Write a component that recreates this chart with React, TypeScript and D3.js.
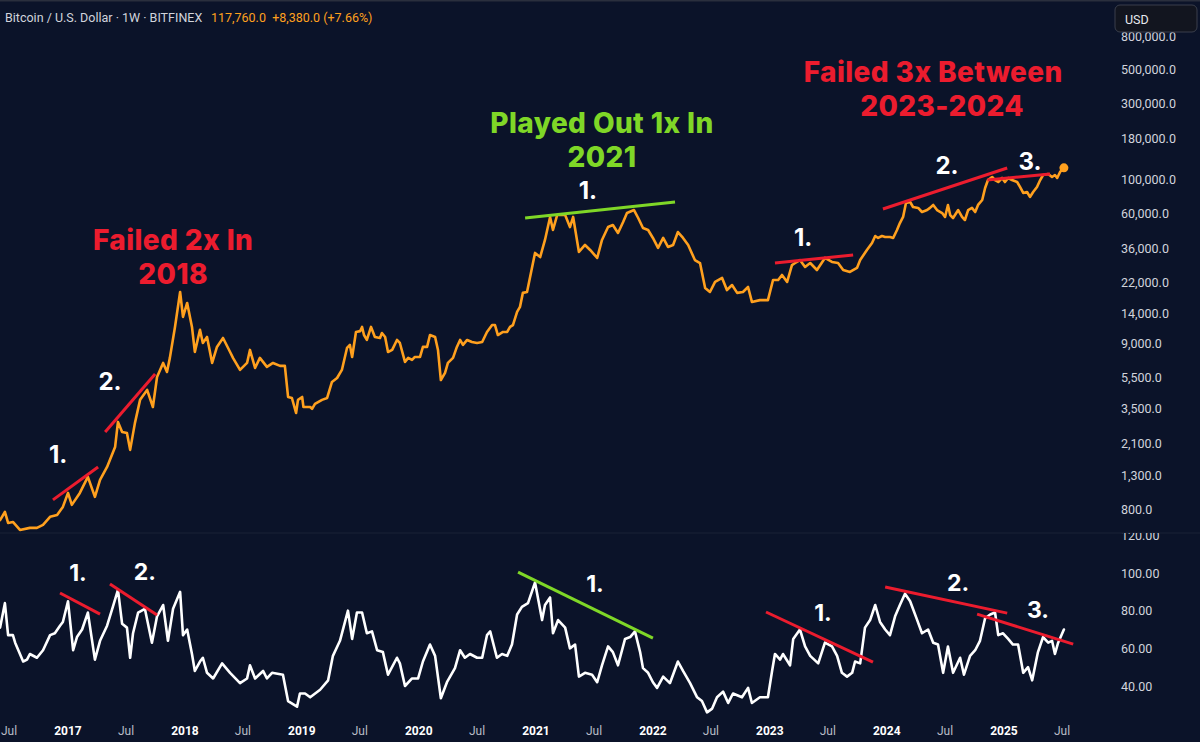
import React from "react";
import * as d3 from "d3";

// ---------- DATA ----------
const priceDates = [
  "2016-06-03","2016-06-18","2016-06-28","2016-07-13","2016-08-04","2016-09-04","2016-09-26","2016-10-15","2016-11-06","2016-11-28",
  "2016-12-16","2017-01-01","2017-01-13","2017-02-07","2017-03-04","2017-03-26","2017-04-11","2017-05-03","2017-05-28","2017-06-06",
  "2017-06-19","2017-07-04","2017-07-14","2017-07-29","2017-08-14","2017-09-05","2017-09-23","2017-10-06","2017-10-25","2017-11-06",
  "2017-11-15","2017-12-01","2017-12-17","2017-12-26","2018-01-08","2018-01-23","2018-02-01","2018-02-17","2018-02-26","2018-03-11",
  "2018-03-27","2018-04-11","2018-04-30","2018-05-22","2018-05-31","2018-06-22","2018-07-14","2018-07-23","2018-08-08","2018-08-23",
  "2018-09-14","2018-10-03",
  "2018-10-25","2018-11-09","2018-11-19","2018-12-01","2018-12-14","2018-12-20","2019-01-02","2019-01-06","2019-01-27","2019-02-02",
  "2019-02-11","2019-03-05","2019-03-21","2019-04-05","2019-04-21","2019-05-06","2019-05-22","2019-05-31","2019-06-07","2019-06-19",
  "2019-07-02","2019-07-08","2019-07-14","2019-07-23","2019-08-05","2019-08-17","2019-09-02","2019-09-08","2019-09-18","2019-09-27",
  "2019-10-10","2019-10-25","2019-11-03","2019-11-19","2019-11-29","2019-12-11","2019-12-20","2020-01-05","2020-01-14","2020-01-27",
  "2020-02-05","2020-02-21","2020-03-01","2020-03-10","2020-03-23","2020-04-01","2020-04-17","2020-04-29","2020-05-09","2020-05-18",
  "2020-05-31","2020-06-15","2020-07-01","2020-07-17","2020-08-01","2020-08-17","2020-08-26","2020-09-04","2020-09-20","2020-10-03",
  "2020-10-12","2020-10-21","2020-11-03","2020-11-12",
  "2020-11-21","2020-12-04","2020-12-29","2021-01-14","2021-01-29","2021-02-14","2021-02-23","2021-03-08","2021-04-02","2021-04-17",
  "2021-04-27","2021-05-15","2021-06-03","2021-06-19","2021-07-11","2021-07-26","2021-08-14","2021-08-29","2021-09-14","2021-09-30",
  "2021-10-12","2021-11-03","2021-11-16","2021-12-01","2021-12-17","2022-01-01","2022-01-17","2022-02-02","2022-02-17","2022-03-05",
  "2022-03-20","2022-04-05","2022-04-21","2022-05-12","2022-05-28","2022-06-13","2022-06-28","2022-07-14","2022-08-05","2022-08-20",
  "2022-09-05","2022-09-21","2022-10-09","2022-10-25","2022-11-06","2022-12-01","2022-12-26","2023-01-11","2023-01-27","2023-02-08",
  "2023-02-24","2023-03-11","2023-03-21","2023-04-05","2023-04-21","2023-05-07","2023-05-28","2023-06-22","2023-07-14","2023-08-02",
  "2023-08-18","2023-09-08","2023-09-30",
  "2023-10-10","2023-10-31","2023-11-16","2023-11-26","2023-12-05","2023-12-17","2023-12-27","2024-01-11","2024-01-21","2024-02-02",
  "2024-02-11","2024-02-21","2024-03-01","2024-03-14","2024-03-23","2024-04-08","2024-04-20","2024-05-06","2024-05-15","2024-05-25",
  "2024-06-06","2024-06-22","2024-07-01","2024-07-10","2024-07-17","2024-07-26","2024-08-11","2024-08-23","2024-09-01","2024-09-11",
  "2024-09-23","2024-10-03","2024-10-12","2024-10-25","2024-11-03","2024-11-12","2024-11-25","2024-12-04","2024-12-14","2024-12-26",
  "2025-01-04","2025-01-14","2025-01-26","2025-02-11","2025-02-20","2025-03-02","2025-03-14","2025-03-23","2025-04-02","2025-04-14",
  "2025-04-24","2025-05-03","2025-05-19","2025-05-31","2025-06-09","2025-06-16","2025-06-25","2025-07-07",
];
const priceValues = [
  680,766,652,662,589,607,607,634,713,733,
  825,1012,850,1012,1280,955,1225,1480,1980,2860,
  2470,2430,1900,2820,3950,4570,3560,5520,6780,5940,
  7300,11480,19150,13300,16300,11480,7960,11000,9080,9910,
  6780,8570,9770,7960,7300,6120,6780,8200,6300,7300,
  6400,6780,
  6490,6490,4120,4060,3260,3950,4120,3560,3560,3460,
  3720,3950,4060,5130,5440,6120,8440,8820,7400,10670,
  10800,11480,10200,9490,11480,9910,9770,10500,9910,7960,
  8200,9490,9080,6880,7300,7080,7400,7400,8570,8570,
  10200,9910,8200,5280,5855,6780,7300,8570,9490,8820,
  9490,9210,9080,9210,10670,11800,11800,10200,10670,10670,
  11480,11800,14290,15400,
  18900,19150,33900,31900,41000,57400,47400,59000,59000,49500,
  57400,34400,38100,35400,31500,41000,49500,51000,45400,53300,
  60800,63500,56500,48800,47400,42200,36500,42200,37000,38100,
  46000,42200,38100,30550,29250,20300,19150,22170,23500,19700,
  21200,18900,19150,20600,16550,17000,17000,22800,22800,24550,
  22170,28400,29250,30550,27600,29250,26400,31500,29700,29250,
  26400,25650,27200,
  30550,35400,39200,43440,42200,43440,42800,42800,42200,47400,
  52500,57400,70400,71400,66400,65500,61700,63500,65500,68400,
  63500,60800,57400,68400,59000,56500,63500,57400,54900,63500,
  65500,61700,68400,73570,87650,98500,103000,98500,95700,101500,
  95700,101500,98500,95700,89000,81500,82700,76900,82700,89000,
  98500,106000,107600,103000,106000,101500,110800,117760,
];

const rsiDates = [
  "2016-06-03","2016-06-18","2016-06-28","2016-07-13","2016-07-20","2016-08-14","2016-08-26","2016-09-04","2016-09-26","2016-10-15",
  "2016-11-06","2016-11-21","2016-12-07","2016-12-16","2017-01-01","2017-01-17","2017-01-29","2017-02-14","2017-03-04","2017-03-26",
  "2017-04-11","2017-05-03","2017-05-21","2017-06-06","2017-06-19","2017-07-04","2017-07-14","2017-07-23","2017-08-08","2017-08-29",
  "2017-09-20","2017-10-06","2017-10-25","2017-11-09","2017-11-25","2017-12-17","2017-12-26","2018-01-08","2018-01-23","2018-02-01",
  "2018-02-17","2018-02-26","2018-03-11","2018-03-30","2018-04-27","2018-05-22","2018-06-22","2018-07-14","2018-07-23","2018-08-08",
  "2018-09-02","2018-09-14","2018-09-30","2018-11-03","2018-11-19","2018-12-17","2018-12-26","2019-01-11","2019-01-27","2019-02-27",
  "2019-03-24","2019-04-08","2019-04-30","2019-05-25","2019-06-07","2019-06-22","2019-07-08","2019-07-23","2019-08-08","2019-08-24",
  "2019-09-11","2019-09-27","2019-10-25","2019-11-03","2019-11-19","2019-12-11","2019-12-30","2020-01-14","2020-02-05","2020-02-21",
  "2020-03-10","2020-03-29","2020-04-23","2020-05-09","2020-05-24","2020-06-09","2020-07-01","2020-07-17","2020-08-01","2020-08-11",
  "2020-09-01","2020-09-17","2020-10-03","2020-10-18","2020-11-03","2020-11-18","2020-12-07","2020-12-29","2021-01-20","2021-01-29",
  "2021-02-14","2021-02-23","2021-03-11","2021-04-02","2021-04-17","2021-05-03","2021-05-15","2021-06-03","2021-06-25","2021-07-11",
  "2021-07-26","2021-08-14","2021-08-29","2021-09-14","2021-10-06","2021-10-22","2021-11-06","2021-11-22","2021-12-01","2021-12-17",
  "2022-01-01","2022-01-14","2022-02-02","2022-02-23","2022-03-20","2022-04-05","2022-04-27","2022-05-19","2022-06-03","2022-06-19",
  "2022-07-05","2022-07-20","2022-08-08","2022-08-24","2022-09-08","2022-10-06","2022-10-25","2022-11-06","2022-12-01","2022-12-26",
  "2023-01-08","2023-01-17","2023-02-02","2023-02-11","2023-03-05","2023-03-15","2023-04-05","2023-04-21","2023-05-07","2023-06-01",
  "2023-06-22","2023-07-14","2023-07-30","2023-08-14","2023-08-30","2023-09-15","2023-09-24","2023-10-10","2023-10-25","2023-11-10",
  "2023-11-26","2023-12-11","2023-12-27","2024-01-11","2024-01-27","2024-02-11","2024-02-27","2024-03-14","2024-04-05","2024-04-20",
  "2024-05-09","2024-05-25","2024-06-09","2024-06-25","2024-07-10","2024-07-26","2024-08-17","2024-08-29","2024-09-17","2024-10-03",
  "2024-10-18","2024-11-03","2024-11-19","2024-12-04","2024-12-14","2024-12-29","2025-01-14","2025-01-29","2025-02-14","2025-03-02",
  "2025-03-17","2025-03-30","2025-04-17","2025-05-03","2025-05-19","2025-05-31","2025-06-09","2025-06-19","2025-07-07",
];
const rsiValues = [
  71,84,67,67,63,53,54,57,55,59,
  67,68,72,74,85,59,66,70,79,54,
  64,72,82,91,73,71,55,68,79,81,
  63,77,83,64,81,90,67,70,57,48,
  53,55,47,44,52,47,41.5,44,51,44,
  48,44,47,46,32,29,36,36,34,38,
  43,56,64,80,65,79,79,68,69,59,
  58,46,55,52,40,44,44,53,62,56,
  33.5,42,49.5,59,55,57,55,55,67,69,
  55,57,56,62,78,82,84,95,75,83,
  87,68,75,71,60,62,45,47,46,42,
  51,61,58,51,65,66,69,58,49.5,47,
  42,39,45,41.5,53,48,41.5,34,32,26,
  28,34,37,31,36,34,39,31,34,34,
  48,57,54,57,51,65,70,61,56,52,
  63,61,56,47,45,47,53,52,71,75,
  83,74,70,67,77,83,89,85,75,68,
  70,63,62,47,61,47,55,46,56,59,
  64,76,78,79,67,68,65,62,62,47,
  50,43,58,66,63,64,57,63,70,
];

// trend lines: [startDate, startValue, endDate, endValue, colour key]
const priceTrendLines: [string, number, string, number, string][] = [
  ["2016-11-15", 914, "2017-04-05", 1480, "red"],
  ["2017-04-27", 2470, "2017-09-30", 5770, "red"],
  ["2020-11-28", 56500, "2022-03-11", 71400, "green"],
  ["2023-01-17", 29250, "2023-09-18", 32900, "red"],
  ["2023-12-20", 64450, "2025-01-11", 117500, "red"],
  ["2024-11-10", 98500, "2025-05-25", 107600, "red"],
];
const rsiTrendLines: [string, number, string, number, string][] = [
  ["2016-12-07", 89.4, "2017-04-11", 78.2, "red"],
  ["2017-05-12", 94.1, "2017-10-06", 77.7, "red"],
  ["2020-11-06", 100.5, "2022-01-01", 65.4, "green"],
  ["2022-12-20", 79.3, "2023-11-19", 52.7, "red"],
  ["2023-12-27", 92.6, "2025-01-11", 78.7, "red"],
  ["2024-10-09", 78.2, "2025-08-05", 62.2, "red"],
];

// labels anchored at [date, value]
const priceNumberLabels: [string, number, string][] = [
  ["2016-12-01", 1766, "1."],
  ["2017-05-12", 5130, "2."],
  ["2021-06-12", 85100, "1."],
  ["2023-04-15", 42200, "1."],
  ["2024-07-07", 122700, "2."],
  ["2025-03-23", 128300, "3."],
];
const rsiNumberLabels: [string, number, string][] = [
  ["2017-02-01", 100, "1."],
  ["2017-08-29", 100.5, "2."],
  ["2021-07-04", 94.1, "1."],
  ["2023-06-16", 78.7, "1."],
  ["2024-08-11", 94.7, "2."],
  ["2025-04-17", 80.3, "3."],
];
const titleLabels: [string, number, string, string][] = [
  ["2017-11-25", 40990, "Failed 2x In", "red"],
  ["2017-11-25", 24900, "2018", "red"],
  ["2021-07-26", 226900, "Played Out 1x In", "green"],
  ["2021-07-26", 138000, "2021", "green"],
  ["2024-05-25", 478500, "Failed 3x Between", "red"],
  ["2024-06-22", 291000, "2023-2024", "red"],
];

const priceTicks = [800000, 500000, 300000, 180000, 100000, 60000, 36000, 22000, 14000, 9000, 5500, 3500, 2100, 1300, 800];
const rsiTicks = [120, 100, 80, 60, 40];

const headerTitle = "Bitcoin / U.S. Dollar · 1W · BITFINEX";
const headerValues = "117,760.0  +8,380.0 (+7.66%)";

// ---------- STYLE ----------
const W = 1200;
const H = 742;
const BG = "#0b1329";
const ORANGE = "#ffa01e";
const RED = "#ec1c2e";
const GREEN = "#7fd727";
const AXIS_TEXT = "#d1d4dc";
const FONT = "Roboto, 'Noto Sans', Arial, sans-serif";
const BOLD_FONT = "Inter, Roboto, 'Noto Sans', Arial, sans-serif";

const colourOf = (k: string) => (k === "green" ? GREEN : RED);

export default function App() {
  const parse = d3.utcParse("%Y-%m-%d");
  const x = d3
    .scaleUtc()
    .domain([parse("2017-01-01")!, parse("2025-01-01")!])
    .range([68, 1004]);
  const yP = d3.scaleLog().domain([100000, 800]).range([179, 509]);
  const yR = d3.scaleLinear().domain([100, 40]).range([573, 686]);

  const priceData = priceDates.map((d, i) => ({ d: parse(d)!, v: priceValues[i] }));
  const rsiData = rsiDates.map((d, i) => ({ d: parse(d)!, v: rsiValues[i] }));

  const priceLine = d3
    .line<{ d: Date; v: number }>()
    .x((p) => x(p.d))
    .y((p) => yP(p.v));
  const rsiLine = d3
    .line<{ d: Date; v: number }>()
    .x((p) => x(p.d))
    .y((p) => yR(p.v));

  const xTicks = d3.utcMonth.every(6)!.range(parse("2016-06-01")!, parse("2025-08-01")!);
  const fmtP = d3.format(",.1f");
  const fmtR = d3.format(".2f");
  const last = priceData[priceData.length - 1];

  const panelSplit = 533;

  return (
    <svg
      width={W}
      height={H}
      viewBox={`0 0 ${W} ${H}`}
      style={{ position: "absolute", left: 0, top: 0, display: "block" }}
    >
      <defs>
        <clipPath id="clipTop">
          <rect x={0} y={0} width={W} height={panelSplit} />
        </clipPath>
        <clipPath id="clipBottom">
          <rect x={0} y={panelSplit} width={W} height={H - panelSplit} />
        </clipPath>
      </defs>
      <rect x={0} y={0} width={W} height={H} fill={BG} />
      <rect x={0} y={0} width={W} height={1.5} fill="#2a2f3d" />
      <line x1={0} x2={W} y1={panelSplit} y2={panelSplit} stroke="#1b2236" strokeWidth={1} />

      {/* header */}
      <text x={5} y={22} fill={AXIS_TEXT} fontFamily={FONT} fontSize={12.5}>
        {headerTitle}
      </text>
      <text x={211} y={22} fill={ORANGE} fontFamily={FONT} fontSize={12.5} style={{ whiteSpace: "pre" }}>
        {headerValues}
      </text>

      {/* price axis labels */}
      <g clipPath="url(#clipTop)">
        {priceTicks.map((t) => (
          <text
            key={t}
            x={1121}
            y={yP(t)}
            dominantBaseline="central"
            fill={AXIS_TEXT}
            fontFamily={FONT}
            fontSize={12.5}
          >
            {fmtP(t)}
          </text>
        ))}
      </g>
      <g clipPath="url(#clipBottom)">
        {rsiTicks.map((t) => (
          <text
            key={t}
            x={1121}
            y={yR(t)}
            dominantBaseline="central"
            fill={AXIS_TEXT}
            fontFamily={FONT}
            fontSize={12.5}
          >
            {fmtR(t)}
          </text>
        ))}
      </g>

      {/* USD box */}
      <rect x={1115} y={5} width={82} height={27} rx={5} fill="#12151f" stroke="#3a3f4c" strokeWidth={1} />
      <text x={1125} y={19} dominantBaseline="central" fill="#e6e8ee" fontFamily={FONT} fontSize={12.5}>
        USD
      </text>

      {/* price panel */}
      <g clipPath="url(#clipTop)">
        <path
          d={priceLine(priceData) || ""}
          fill="none"
          stroke={ORANGE}
          strokeWidth={2.6}
          strokeLinejoin="round"
          strokeLinecap="round"
        />
        {priceTrendLines.map((l, i) => (
          <line
            key={i}
            x1={x(parse(l[0])!)}
            y1={yP(l[1])}
            x2={x(parse(l[2])!)}
            y2={yP(l[3])}
            stroke={colourOf(l[4])}
            strokeWidth={3}
          />
        ))}
        <circle cx={x(last.d)} cy={yP(last.v)} r={4.5} fill={ORANGE} />
        {priceNumberLabels.map((l, i) => (
          <text
            key={i}
            x={x(parse(l[0])!)}
            y={yP(l[1])}
            textAnchor="middle"
            dominantBaseline="central"
            fill="#ffffff"
            fontFamily={BOLD_FONT}
            fontWeight={700}
            fontSize={24}
          >
            {l[2]}
          </text>
        ))}
        {titleLabels.map((l, i) => (
          <text
            key={i}
            x={x(parse(l[0])!)}
            y={yP(l[1])}
            textAnchor="middle"
            dominantBaseline="central"
            fill={colourOf(l[3])}
            fontFamily={BOLD_FONT}
            fontWeight={800}
            fontSize={28}
            letterSpacing={0.4}
          >
            {l[2]}
          </text>
        ))}
      </g>

      {/* RSI panel */}
      <g clipPath="url(#clipBottom)">
        <path
          d={rsiLine(rsiData) || ""}
          fill="none"
          stroke="#ffffff"
          strokeWidth={2.6}
          strokeLinejoin="round"
          strokeLinecap="round"
        />
        {rsiTrendLines.map((l, i) => (
          <line
            key={i}
            x1={x(parse(l[0])!)}
            y1={yR(l[1])}
            x2={x(parse(l[2])!)}
            y2={yR(l[3])}
            stroke={colourOf(l[4])}
            strokeWidth={3}
          />
        ))}
        {rsiNumberLabels.map((l, i) => (
          <text
            key={i}
            x={x(parse(l[0])!)}
            y={yR(l[1])}
            textAnchor="middle"
            dominantBaseline="central"
            fill="#ffffff"
            fontFamily={BOLD_FONT}
            fontWeight={700}
            fontSize={23}
          >
            {l[2]}
          </text>
        ))}
      </g>

      {/* time axis */}
      {xTicks.map((t, i) => {
        const isYear = t.getUTCMonth() === 0;
        return (
          <text
            key={i}
            x={x(t)}
            y={731}
            textAnchor="middle"
            dominantBaseline="central"
            fill={isYear ? "#ffffff" : "#b8bcc6"}
            fontFamily={FONT}
            fontWeight={isYear ? 700 : 400}
            fontSize={12}
          >
            {isYear ? d3.utcFormat("%Y")(t) : "Jul"}
          </text>
        );
      })}
    </svg>
  );
}
